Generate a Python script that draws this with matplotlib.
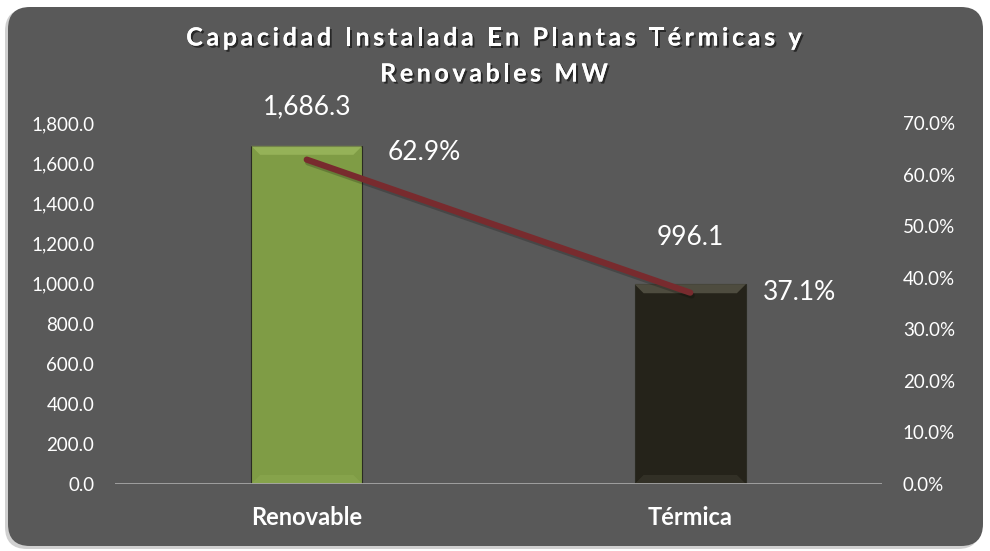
import matplotlib
matplotlib.use("Agg")
import matplotlib.pyplot as plt
import matplotlib.patheffects as pe
from matplotlib.patches import FancyBboxPatch, Polygon
from matplotlib.font_manager import FontProperties
from matplotlib.ticker import FuncFormatter, MultipleLocator

# ---------------- data ----------------
categories = ["Renovable", "Térmica"]
capacity_mw = [1686.3, 996.1]
share_pct = [62.9, 37.1]
title_lines = ["Capacidad Instalada En Plantas Térmicas y", "Renovables MW"]

# ---------------- style ----------------
W, H, DPI = 990, 551, 100
panel_color = "#595959"
bar_colors = ["#7F9C45", "#25231A"]
bevel_colors = ["#A5C165", "#6A6858"]
line_color = "#782B2E"
text_color = "#FFFFFF"
FONT = "Lato"

fig = plt.figure(figsize=(W / DPI, H / DPI), dpi=DPI, facecolor="white")

def px(v):
    return v / DPI

shadow = FancyBboxPatch((px(5), px(551 - 549)), px(975), px(540),
                        boxstyle=f"round,pad=0,rounding_size={px(22)}",
                        transform=fig.dpi_scale_trans, facecolor="#D0D0D0",
                        edgecolor="none", zorder=-3)
fig.patches.append(shadow)
panel = FancyBboxPatch((px(8), px(551 - 546)), px(975), px(539),
                       boxstyle=f"round,pad=0,rounding_size={px(22)}",
                       transform=fig.dpi_scale_trans, facecolor=panel_color,
                       edgecolor="none", zorder=-2)
fig.patches.append(panel)

ax = fig.add_axes([115 / W, (H - 484) / H, (882 - 115) / W, (484 - 123) / H])
ax.set_facecolor("none")
ax2 = ax.twinx()
ax2.set_facecolor("none")

x = list(range(len(categories)))
bw = 0.29
ax.set_xlim(-0.5, 1.5)
ax.set_ylim(0, 1800)
ax2.set_ylim(0, 70)

bars = ax.bar(x, capacity_mw, width=bw, color=bar_colors, edgecolor="#2a2a22",
              linewidth=0.8, zorder=2)

# bevel highlight at top/bottom of each bar
ypp = 1800 / 361.0
xpp = 2.0 / 767.0
bev = 9
for xi, v, bc in zip(x, capacity_mw, bevel_colors):
    l, r = xi - bw / 2, xi + bw / 2
    poly = Polygon([(l, v), (r, v), (r - bev * xpp, v - bev * ypp),
                    (l + bev * xpp, v - bev * ypp)], closed=True,
                   facecolor=bc, edgecolor="none", alpha=0.6, zorder=3)
    ax.add_patch(poly)
    poly2 = Polygon([(l, 0), (r, 0), (r - bev * xpp, bev * ypp),
                     (l + bev * xpp, bev * ypp)], closed=True,
                    facecolor=bc, edgecolor="none", alpha=0.2, zorder=3)
    ax.add_patch(poly2)

ax.axhline(0, color="#A6A6A6", lw=2, zorder=4)

ax2.plot(x, share_pct, color=line_color, lw=4.5, solid_capstyle="round", zorder=5,
         path_effects=[pe.SimpleLineShadow(offset=(1, -2), shadow_color="black",
                                           alpha=0.2), pe.Normal()])

for a in (ax, ax2):
    for s in a.spines.values():
        s.set_visible(False)
    a.tick_params(length=0, colors=text_color)

ax.yaxis.set_major_locator(MultipleLocator(200))
ax.yaxis.set_major_formatter(FuncFormatter(lambda v, p: f"{v:,.1f}"))
ax2.yaxis.set_major_locator(MultipleLocator(10))
ax2.yaxis.set_major_formatter(FuncFormatter(lambda v, p: f"{v:.1f}%"))
for lab in ax.get_yticklabels() + ax2.get_yticklabels():
    lab.set_fontfamily(FONT); lab.set_fontsize(13.5); lab.set_color(text_color)
ax.tick_params(axis="y", pad=15)
ax2.tick_params(axis="y", pad=15)

ax.set_xticks(x)
ax.set_xticklabels(categories, fontfamily=FONT, fontsize=17, fontweight="bold",
                   color=text_color)
ax.tick_params(axis="x", pad=16)

lab_offsets = [28, 34]
for xi, v, off in zip(x, capacity_mw, lab_offsets):
    ax.annotate(f"{v:,.1f}", (xi, v), xytext=(0, off), textcoords="offset points",
                ha="center", va="center", fontsize=19, fontfamily=FONT,
                color=text_color, zorder=6)
pct_offsets = [(58, 5), (52, 0)]
for xi, v, off in zip(x, share_pct, pct_offsets):
    ax2.annotate(f"{v:.1f}%", (xi, v), xytext=off, textcoords="offset points",
                 ha="left", va="center", fontsize=19, fontfamily=FONT,
                 color=text_color, zorder=6)

renderer = fig.canvas.get_renderer()
fp = FontProperties(family=FONT, weight="bold", size=18)
spacing = 3.6
title_y = [38, 74]
shadow_fx = [pe.withSimplePatchShadow(offset=(1.5, -1.5), shadow_rgbFace="black",
                                      alpha=0.55), pe.Normal()]
for line, ty in zip(title_lines, title_y):
    widths = [renderer.get_text_width_height_descent(c, fp, ismath=False)[0]
              for c in line]
    total = sum(widths) + spacing * (len(line) - 1)
    cx = 494 - total / 2
    for c, w in zip(line, widths):
        fig.text(cx / W, 1 - ty / H, c, fontproperties=fp, color=text_color,
                 ha="left", va="center", path_effects=shadow_fx, zorder=7)
        cx += w + spacing

fig.savefig("out.png", dpi=DPI, facecolor="white")
